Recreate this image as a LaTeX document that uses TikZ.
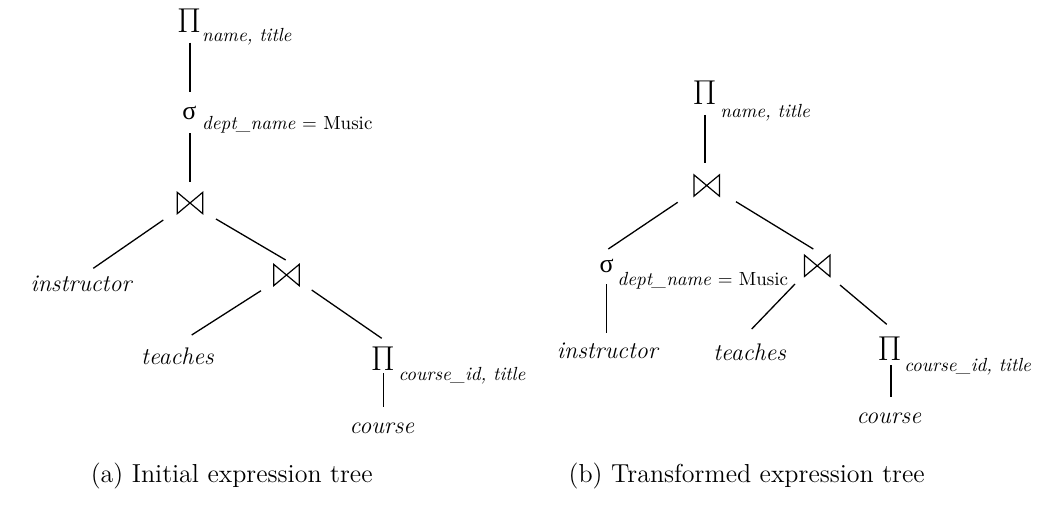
\documentclass[tikz,border=0pt]{standalone}
\usepackage{fontspec}
\newfontfamily\grk{Liberation Serif}
\begin{document}
\begin{tikzpicture}[x=0.5pt,y=-0.5pt,
  lbl/.style={font=\fontsize{12}{14}\selectfont\itshape, inner sep=0pt, anchor=base},
  sub/.style={font=\fontsize{9.5}{11}\selectfont\itshape, inner sep=0pt, anchor=base west},
  capt/.style={font=\fontsize{13}{15}\selectfont, inner sep=0pt, anchor=base},
  proj/.style={inner sep=0pt, font=\fontsize{16}{16}\selectfont},
  sel/.style={inner sep=0pt, font=\fontsize{13}{13}\selectfont\grk},
  joinop/.style={minimum width=16pt, minimum height=14pt, inner sep=0pt,
    path picture={\draw[line width=0.6pt, line join=miter]
      ([shift={(-6.35pt,5.3pt)}]path picture bounding box.center) --
      ([shift={(-6.35pt,-5.3pt)}]path picture bounding box.center) --
      ([shift={(6.35pt,5.3pt)}]path picture bounding box.center) --
      ([shift={(6.35pt,-5.3pt)}]path picture bounding box.center) -- cycle;}},
  conn/.style={line width=0.65pt}]
\useasboundingbox (0,0) rectangle (1044,508);

% ---- (a) initial tree
\node[proj] (p1) at (189,21) {$\Pi$};
\node[sub] (p1s) at (201.7,42) {name, title};
\node[sel] (s1) at (189.5,113) {σ};
\node[sub] (s1s) at (201.7,130) {dept\_name {\upshape = Music}};
\node[joinop] (j1) at (190,203) {};
\node[lbl] (i1) at (81,291.7) {instructor};
\node[joinop] (j2) at (286.5,275) {};
\node[lbl] (t1) at (177.5,364) {teaches};
\node[proj] (p2) at (382.8,358.7) {$\Pi$};
\node[sub] (p2s) at (398.3,380) {course\_id, title};
\node[lbl] (c1) at (382,433) {course};
\node[capt] (ca) at (231.7,482) {(a) Initial expression tree};

\draw[conn] ([shift={(1,21.7)}]p1.center) -- ([shift={(0.5,-21.3)}]s1.center);
\draw[conn] ([shift={(0.5,20.3)}]s1.center) -- ([shift={(0,-21.3)}]j1.center);
\draw[conn] ([shift={(-26.7,17)}]j1.center) -- ([shift={(12.3,-23.4)}]i1.base);
\draw[conn] ([shift={(26,16)}]j1.center) -- ([shift={(-0.8,-15)}]j2.center);
\draw[conn] ([shift={(-25.5,15.7)}]j2.center) -- ([shift={(14.2,-29)}]t1.base);
\draw[conn] ([shift={(25.2,15)}]j2.center) -- ([shift={(-1.1,-20.4)}]p2.center);
\draw[conn] ([shift={(0.5,14.6)}]p2.center) -- ([shift={(1.3,-26.3)}]c1.base);

% ---- (b) transformed tree
\node[proj] (p3) at (704.5,93) {$\Pi$};
\node[sub] (p3s) at (720,118) {name, title};
\node[joinop] (j3) at (706.7,185.5) {};
\node[sel] (s2) at (606.7,266) {σ};
\node[sub] (s2s) at (617.3,285) {dept\_name {\upshape = Music}};
\node[lbl] (i2) at (607.3,358.3) {instructor};
\node[joinop] (j4) at (817.2,265.8) {};
\node[lbl] (t2) at (749.7,360) {teaches};
\node[proj] (p4) at (889.7,348.5) {$\Pi$};
\node[sub] (p4s) at (904,371.7) {course\_id, title};
\node[lbl] (c2) at (888.8,423.3) {course};
\node[capt] (cb) at (746.7,482) {(b) Transformed expression tree};

\draw[conn] ([shift={(0.5,22)}]p3.center) -- ([shift={(-1.7,-22.8)}]j3.center);
\draw[conn] ([shift={(-29,16.8)}]j3.center) -- ([shift={(1.6,-17)}]s2.center);
\draw[conn] ([shift={(29.3,16.2)}]j3.center) -- ([shift={(-3.9,-16.8)}]j4.center);
\draw[conn] ([shift={(0,18)}]s2.center) -- ([shift={(-0.6,-25.6)}]i2.base);
\draw[conn] ([shift={(-22.2,18.2)}]j4.center) -- ([shift={(2,-31)}]t2.base);
\draw[conn] ([shift={(22.8,19.2)}]j4.center) -- ([shift={(-3,-24.2)}]p4.center);
\draw[conn] ([shift={(1.3,16.5)}]p4.center) -- ([shift={(2.2,-26)}]c2.base);
\end{tikzpicture}
\end{document}
